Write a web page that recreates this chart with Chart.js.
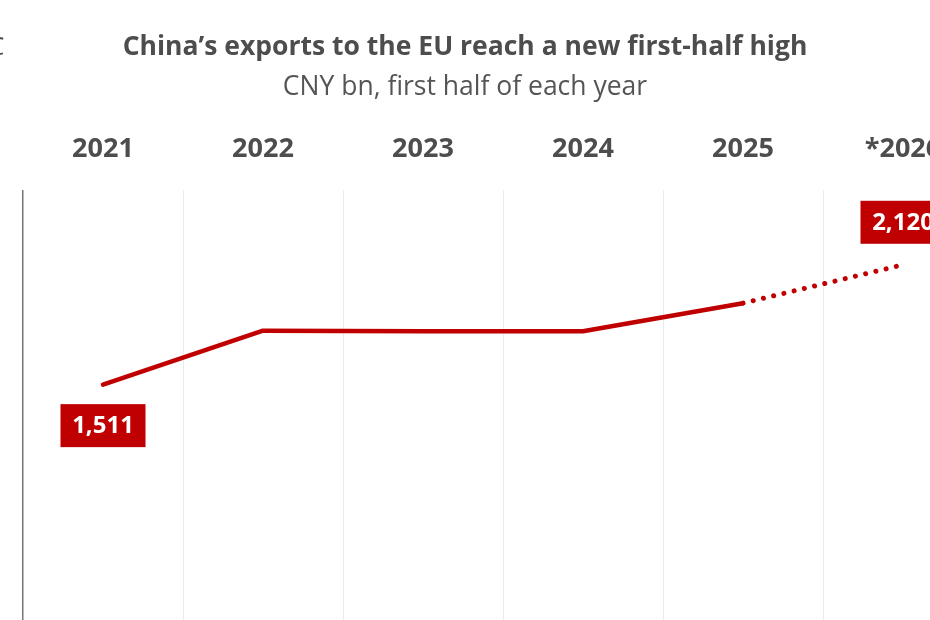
<!DOCTYPE html>
<html>
<head>
<meta charset="utf-8">
<script src="https://cdn.jsdelivr.net/npm/chart.js@4.4.1/dist/chart.umd.min.js"></script>
<style>
  html, body { margin: 0; padding: 0; width: 930px; height: 620px; overflow: hidden; background: #fff; }
  #wrap { position: absolute; left: 0; top: 0; width: 1000px; height: 682px; }
  #title { position: absolute; left: 0; width: 930px; top: 27px; text-align: center;
           font: bold 26.5px "Open Sans", sans-serif; color: #4d4d4d; white-space: nowrap; }
  #subtitle { position: absolute; left: 0; width: 930px; top: 67px; text-align: center;
           font: 26.5px "Open Sans", sans-serif; color: #555; white-space: nowrap; }
  #cut { position: absolute; left: -12px; top: 27px; font: 26px "Open Sans", sans-serif; color: #4d4d4d; }
</style>
</head>
<body>
<div id="wrap"><canvas id="c" width="1000" height="682"></canvas></div>
<div id="cut">C</div>
<div id="title">China’s exports to the EU reach a new first-half high</div>
<div id="subtitle">CNY bn, first half of each year</div>
<script>
const years = ['2021', '2022', '2023', '2024', '2025', '*2026'];
const exportsCNYbn = [1511, 1785, 1782, 1782, 1925, 2120];
const pointLabels = ['1,511', null, null, null, null, '2,120'];
const yMin = 0;
const yMax = 2500;

const RED = '#c00000';

const boxLabels = {
  id: 'boxLabels',
  afterDatasetsDraw(chart) {
    const ctx = chart.ctx;
    const meta = chart.getDatasetMeta(0);
    ctx.save();
    ctx.font = 'bold 24px "Open Sans", sans-serif';
    ctx.textAlign = 'center';
    ctx.textBaseline = 'middle';
    pointLabels.forEach((txt, i) => {
      if (!txt) return;
      const p = meta.data[i];
      const above = i === pointLabels.length - 1;
      const w = 85, h = 43;
      const cx = p.x;
      const cy = above ? p.y - 42.5 : p.y + 41;
      ctx.fillStyle = RED;
      ctx.fillRect(cx - w / 2, cy - h / 2, w, h);
      ctx.fillStyle = '#fff';
      ctx.fillText(txt, cx, cy + 1);
    });
    ctx.restore();
  }
};

new Chart(document.getElementById('c'), {
  type: 'line',
  data: {
    labels: years,
    datasets: [{
      data: exportsCNYbn,
      borderColor: RED,
      borderWidth: 4.5,
      borderCapStyle: 'round',
      borderJoinStyle: 'round',
      pointRadius: 0,
      pointHoverRadius: 0,
      fill: false,
      tension: 0,
      segment: {
        borderDash: ctx => ctx.p0DataIndex === years.length - 2 ? [0.01, 10.5] : [],
        borderWidth: ctx => ctx.p0DataIndex === years.length - 2 ? 5 : 4.5
      }
    }]
  },
  options: {
    responsive: false,
    animation: false,
    events: [],
    layout: { padding: { left: 23, right: 17, top: 130, bottom: 0 } },
    plugins: { legend: { display: false }, tooltip: { enabled: false } },
    scales: {
      x: {
        position: 'top',
        offset: true,
        border: { display: false },
        afterFit: scale => { scale.height = 60; },
        grid: {
          offset: true,
          drawTicks: false,
          color: ctx => ctx.index === 0 ? '#777' : '#ebebeb',
          lineWidth: ctx => ctx.index === 0 ? 1.5 : 1
        },
        ticks: {
          autoSkip: false,
          maxRotation: 0,
          padding: 24,
          color: '#4d4d4d',
          font: { family: '"Open Sans", sans-serif', size: 27, weight: 'bold' }
        }
      },
      y: { display: false, min: yMin, max: yMax }
    }
  },
  plugins: [boxLabels]
});
</script>
</body>
</html>
